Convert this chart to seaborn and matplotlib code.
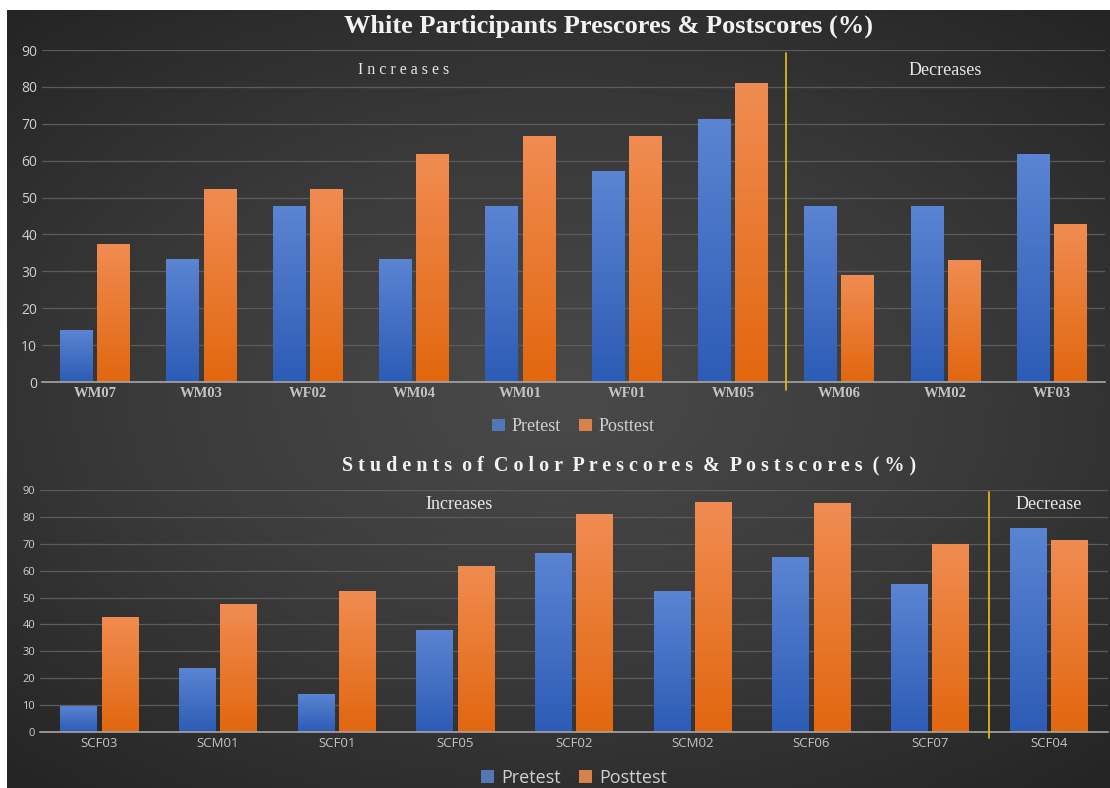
import matplotlib
matplotlib.use("Agg")
import matplotlib.pyplot as plt
import numpy as np
import pandas as pd
import seaborn as sns

# ---- data ----
white_ids = ["WM07", "WM03", "WF02", "WM04", "WM01", "WF01", "WM05", "WM06", "WM02", "WF03"]
white_pre = [14.0, 33.3, 47.6, 33.3, 47.6, 57.1, 71.4, 47.8, 47.8, 61.9]
white_post = [37.5, 52.4, 52.4, 61.9, 66.7, 66.7, 81.0, 29.0, 33.0, 42.9]
white_n_increase = 7

color_ids = ["SCF03", "SCM01", "SCF01", "SCF05", "SCF02", "SCM02", "SCF06", "SCF07", "SCF04"]
color_pre = [9.8, 23.8, 14.3, 38.1, 66.7, 52.4, 65.0, 55.0, 76.0]
color_post = [42.9, 47.6, 52.4, 61.9, 80.9, 85.7, 85.0, 70.0, 71.4]
color_n_increase = 8

tests = ["Pretest", "Posttest"]
yticks = list(range(0, 91, 10))

BLUE = "#4472C4"
ORANGE = "#ED7D31"
grad = {BLUE: ("#5b84d2", "#2d5cb6"), ORANGE: ("#f08c52", "#e2670f")}
TXT = "#d0d0d0"


def long_df(ids, pre, post):
    return pd.DataFrame({
        "ID": ids * 2,
        "Score": pre + post,
        "Test": [tests[0]] * len(ids) + [tests[1]] * len(ids),
    })


def gradient_bars(ax, containers, colors):
    for cont, col in zip(containers, colors):
        top, bot = grad[col]
        cmap = matplotlib.colors.LinearSegmentedColormap.from_list("g", [bot, top])
        for bar in cont:
            x, y = bar.get_x(), bar.get_y()
            w, h = bar.get_width(), bar.get_height()
            bar.set_facecolor("none")
            bar.set_edgecolor("none")
            im = ax.imshow(np.linspace(0, 1, 100).reshape(-1, 1), cmap=cmap, aspect="auto",
                           origin="lower", extent=(x, x + w, y, y + h), zorder=2)
            im.set_clip_path(bar)


def draw_panel(ax, ids, pre, post, n_up, labels, label_x, label_fs, serif, tick_fs, ytick_fs, leg_y):
    df = long_df(ids, pre, post)
    sns.barplot(data=df, x="ID", y="Score", hue="Test", palette=[BLUE, ORANGE],
                width=0.7, gap=0.12, ax=ax, zorder=2)
    gradient_bars(ax, ax.containers, [BLUE, ORANGE])
    ax.set_xlim(-0.5, len(ids) - 0.5)
    ax.set_ylim(0, 90)
    ax.set_yticks(yticks)
    ax.set_facecolor("none")
    ax.grid(axis="y", color="#5c5c5c", lw=0.9, zorder=0)
    ax.grid(axis="x", visible=False)
    for s in ["top", "right", "left"]:
        ax.spines[s].set_visible(False)
    ax.spines["bottom"].set_color("#a6a6a6")
    ax.spines["bottom"].set_linewidth(1.2)
    ax.tick_params(length=0, colors=TXT)
    ax.set_xlabel("")
    ax.set_ylabel("")
    fam = "Liberation Serif" if serif else "Open Sans"
    for t in ax.get_xticklabels():
        t.set_fontfamily(fam)
        t.set_fontsize(tick_fs)
        t.set_color("#c4c4c4")
        if serif:
            t.set_fontweight("bold")
    for t in ax.get_yticklabels():
        t.set_fontfamily("Open Sans")
        t.set_fontsize(ytick_fs)
        t.set_color(TXT)

    # divider between increases and decreases
    ax.axvline(n_up - 0.5, ymin=-0.025, ymax=0.99, color="#e0b420", lw=1.3,
               clip_on=False, zorder=3)
    left_lbl, right_lbl = labels
    ax.text(label_x, 84.5, left_lbl, ha="center", va="center", color="#e8e8e8",
            fontfamily="Liberation Serif", fontsize=label_fs)
    ax.text(n_up - 0.5 + (len(ids) - n_up) / 2, 84.5, right_lbl, ha="center", va="center",
            color="#e8e8e8", fontfamily="Liberation Serif", fontsize=13)

    sns.move_legend(ax, "upper center", bbox_to_anchor=(0.5, leg_y), ncol=2, frameon=False,
                    title=None, handlelength=0.7, handleheight=0.7, handletextpad=0.4,
                    columnspacing=1.0,
                    prop={"family": fam, "size": 13})
    leg = ax.get_legend()
    for t in leg.get_texts():
        t.set_color(TXT)
    for h in leg.legend_handles:
        h.set_edgecolor("none")


sns.set_theme(style="dark")
fig = plt.figure(figsize=(11.1, 7.88), dpi=100)
fig.patch.set_facecolor("white")

# dark radial background with a thin white margin on top/left
bg = fig.add_axes([7 / 1110, 0, 1 - 7 / 1110, 1 - 10 / 788], zorder=-10)
yy, xx = np.mgrid[-1:1:300j, -1:1:400j]
r = np.sqrt((xx * 0.9) ** 2 + (yy * 1.0) ** 2)
bg_cmap = matplotlib.colors.LinearSegmentedColormap.from_list("bg", ["#4a4a4a", "#3a3a3a", "#242424"])
bg.imshow(r, cmap=bg_cmap, aspect="auto", vmin=0, vmax=1.35)
bg.axis("off")

ax1 = fig.add_axes([42 / 1110, 1 - 382 / 788, 1063 / 1110, 332 / 788])
ax2 = fig.add_axes([40 / 1110, 1 - 732 / 788, 1068 / 1110, 242 / 788])

draw_panel(ax1, white_ids, white_pre, white_post, white_n_increase,
           ("I n c r e a s e s", "Decreases"), 2.9, 11.5, True, 10.5, 10, -0.06)
draw_panel(ax2, color_ids, color_pre, color_post, color_n_increase,
           ("Increases", "Decrease"), 3.03, 13, False, 9.5, 8, -0.085)

fig.text(0.548, 1 - 26 / 788, "White Participants Prescores & Postscores (%)", ha="center",
         va="center", color="#f2f2f2", fontfamily="Liberation Serif", fontweight="bold", fontsize=19)
fig.text(0.567, 1 - 465 / 788, "S t u d e n t s  o f  C o l o r  P r e s c o r e s  &  P o s t s c o r e s  ( % )",
         ha="center", va="center", color="#f2f2f2", fontfamily="Liberation Serif",
         fontweight="bold", fontsize=14.5)

fig.savefig("out.png", dpi=100, facecolor=fig.get_facecolor())
